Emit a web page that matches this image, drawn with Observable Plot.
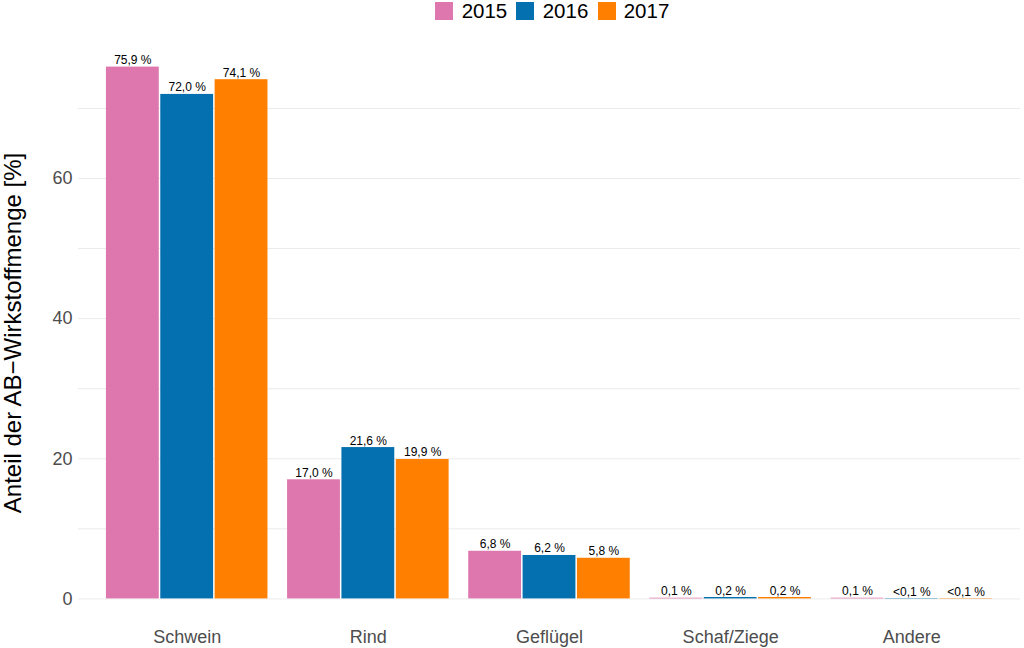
<!DOCTYPE html>
<html><head><meta charset="utf-8">
<script src="https://cdn.jsdelivr.net/npm/d3@7"></script>
<script src="https://cdn.jsdelivr.net/npm/@observablehq/plot@0.6"></script>
<style>
body{margin:0;background:#fff;font-family:"Liberation Sans",Arial,sans-serif;}
#legend{height:22px;display:flex;justify-content:center;align-items:center;overflow:hidden;padding-left:90px;}
.lg-swatches{min-height:0 !important;margin:0 !important;}
.lg-swatch{margin-right:0.45em !important;}
.lg-swatch > svg{margin-right:0.4em !important;}
#chart{position:relative;width:1024px;height:626px;}
#chart > svg{position:absolute;left:0;top:0;}
</style></head><body>
<div id="legend"></div><div id="chart"></div>
<script>
const categories = ["Schwein", "Rind", "Geflügel", "Schaf/Ziege", "Andere"];
const years = ["2015", "2016", "2017"];
const colors = ["#de77ae", "#0570b0", "#ff7f00"];
const values2015 = [75.9, 17.0, 6.8, 0.1, 0.1];
const values2016 = [72.0, 21.6, 6.2, 0.2, 0.05];
const values2017 = [74.1, 19.9, 5.8, 0.2, 0.05];
const labels2015 = ["75,9 %", "17,0 %", "6,8 %", "0,1 %", "0,1 %"];
const labels2016 = ["72,0 %", "21,6 %", "6,2 %", "0,2 %", "<0,1 %"];
const labels2017 = ["74,1 %", "19,9 %", "5,8 %", "0,2 %", "<0,1 %"];
const yTicks = [0, 20, 40, 60];
const gridTicks = [0, 10, 20, 30, 40, 50, 60, 70];
const yLabel = "Anteil der AB\u2212Wirkstoffmenge [%]";

const seriesValues = [values2015, values2016, values2017];
const seriesLabels = [labels2015, labels2016, labels2017];
const rows = [];
categories.forEach((c, i) => {
  years.forEach((y, j) => {
    rows.push({category: c, year: y, value: seriesValues[j][i], label: seriesLabels[j][i]});
  });
});

const font = '"Liberation Sans", Arial, sans-serif';

const legend = Plot.legend({
  color: {domain: years, range: colors},
  legend: "swatches",
  swatchSize: 18,
  className: "lg",
  style: {fontSize: "20.5px", fontFamily: font, color: "#000"}
});
document.getElementById("legend").appendChild(legend);

const common = {
  width: 1024,
  height: 626,
  marginLeft: 78,
  marginRight: 4,
  marginTop: 18,
  marginBottom: 23,
  y: {domain: [-3.795, 79.695], axis: null}
};

// background layer: grid, y axis, y label
const back = Plot.plot({
  ...common,
  style: {fontFamily: font, background: "#fff"},
  marks: [
    Plot.ruleY(gridTicks, {stroke: "#ebebeb", strokeWidth: 1}),
    Plot.axisY({ticks: yTicks, tickSize: 0, tickPadding: 6, fontSize: 18, color: "#4d4d4d", label: null}),
    Plot.text([yLabel], {frameAnchor: "left", textAnchor: "middle", rotate: -90, dx: -65, fontSize: 24, fill: "#000"})
  ]
});

// foreground layer: grouped bars, value labels, category axis
const front = Plot.plot({
  ...common,
  style: {fontFamily: font, background: "transparent"},
  fx: {domain: categories, paddingInner: 0.1, paddingOuter: 0.15, round: false, label: null},
  x: {domain: years, padding: 0, round: false, axis: null},
  color: {domain: years, range: colors},
  marks: [
    Plot.barY(rows, {fx: "category", x: "year", y: "value", fill: "year", insetLeft: 0.75, insetRight: 0.75}),
    Plot.text(rows, {fx: "category", x: "year", y: "value", text: "label", lineAnchor: "bottom", dy: -3, fontSize: 12, fill: "#000"}),
    Plot.axisFx({anchor: "bottom", tickSize: 0, tickPadding: 5, fontSize: 18, color: "#4d4d4d", label: null})
  ]
});
const chartEl = document.getElementById("chart");
chartEl.appendChild(back);
chartEl.appendChild(front);
</script>
</body></html>
